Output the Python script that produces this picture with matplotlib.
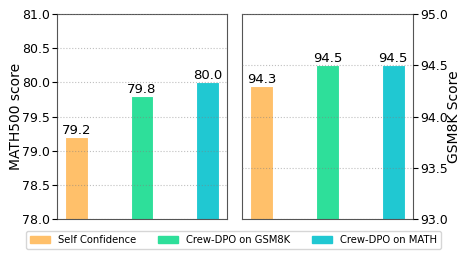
import matplotlib
matplotlib.use('Agg')
import matplotlib.pyplot as plt
from matplotlib.patches import Patch

methods = ['Self Confidence', 'Crew-DPO on GSM8K', 'Crew-DPO on MATH']
colors = ['#ffc06a', '#2edf9a', '#20c8d2']
math500 = [79.2, 79.8, 80.0]
gsm8k = [94.3, 94.5, 94.5]

fig = plt.figure(figsize=(4.57, 2.74), dpi=100)
ax1 = fig.add_axes([57 / 457, 1 - 219 / 274, 170 / 457, 205 / 274])
ax2 = fig.add_axes([242 / 457, 1 - 219 / 274, 171 / 457, 205 / 274])

x = range(len(methods))
for ax, vals, ylim, label in [(ax1, math500, (78.0, 81.0), 'MATH500 score'),
                              (ax2, gsm8k, (93.0, 95.0), 'GSM8K Score')]:
    ax.bar(x, vals, width=0.35, color=colors, edgecolor='white',
           linewidth=0.8, zorder=2)
    for xi, v in zip(x, vals):
        ax.text(xi, v, '%.1f' % v, ha='center', va='bottom', fontsize=9.5)
    ax.set_ylim(*ylim)
    ax.set_xlim(-0.3, 2.3)
    ax.set_xticks([])
    ax.grid(axis='y', linestyle=':', color='grey', alpha=0.5, linewidth=0.8,
            zorder=3)
    ax.set_axisbelow(False)
    ax.set_ylabel(label, fontsize=10)
    ax.tick_params(axis='y', labelsize=9, pad=1.5)
    for s in ax.spines.values():
        s.set_color('#555555')

ax1.set_yticks([78.0, 78.5, 79.0, 79.5, 80.0, 80.5, 81.0])
ax1.yaxis.set_major_formatter(matplotlib.ticker.FormatStrFormatter('%.1f'))
ax2.set_yticks([93.0, 93.5, 94.0, 94.5, 95.0])
ax2.yaxis.set_major_formatter(matplotlib.ticker.FormatStrFormatter('%.1f'))
ax2.yaxis.tick_right()
ax2.yaxis.set_label_position('right')
ax1.yaxis.set_label_coords(-0.2, 0.5)
ax2.yaxis.set_label_coords(1.196, 0.5)

handles = [Patch(color=c, label=m) for c, m in zip(colors, methods)]
fig.legend(handles=handles, loc='center', ncol=3, fontsize=7.2,
           bbox_to_anchor=(233.5 / 457, 1 - 240 / 274), frameon=True,
           handlelength=2, handletextpad=0.8, columnspacing=2.2)

fig.savefig('out.png', dpi=100)
